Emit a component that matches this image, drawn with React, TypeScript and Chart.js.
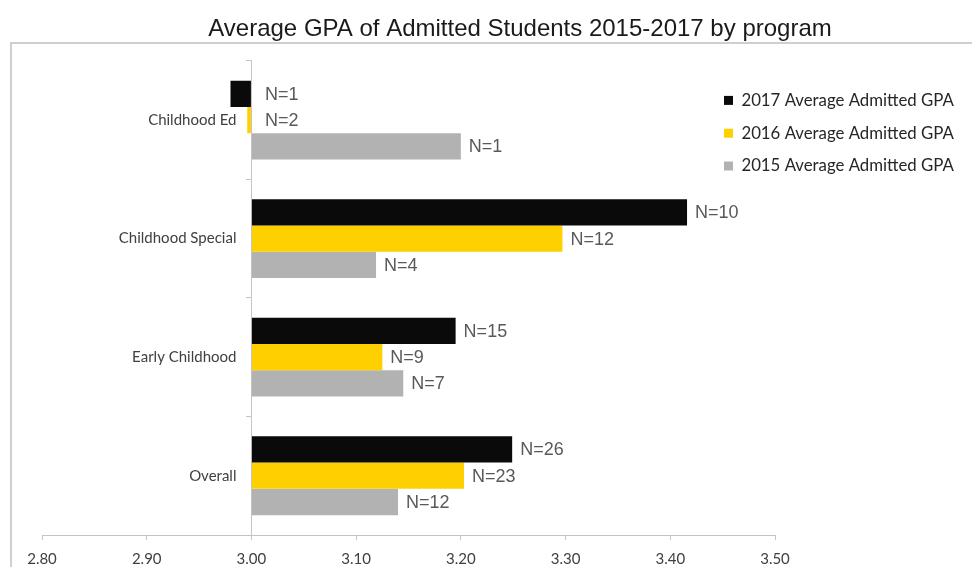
import React, { useEffect, useRef } from "react";
import { Chart, registerables } from "chart.js";

Chart.register(...registerables);

const chartTitle = "Average GPA of Admitted Students 2015-2017 by program";
const categories = ["Childhood Ed", "Childhood Special", "Early Childhood", "Overall"];
const seriesLabels = [
  "2017 Average Admitted GPA",
  "2016 Average Admitted GPA",
  "2015 Average Admitted GPA",
];
const gpa2017 = [2.98, 3.416, 3.195, 3.249];
const gpa2016 = [2.996, 3.297, 3.125, 3.203];
const gpa2015 = [3.2, 3.119, 3.145, 3.14];
const n2017 = [1, 10, 15, 26];
const n2016 = [2, 12, 9, 23];
const n2015 = [1, 4, 7, 12];
const baseGPA = 3.0;
const xTicks = [2.8, 2.9, 3.0, 3.1, 3.2, 3.3, 3.4, 3.5];

const seriesValues = [gpa2017, gpa2016, gpa2015];
const seriesCounts = [n2017, n2016, n2015];
const seriesColors = ["#0a0a0a", "#ffd000", "#b2b2b2"];

const AXIS_GRAY = "#c4c4c4";
const CATEGORY_LABEL_GAP = 15;

const placeBoxesPlugin = {
  id: "placeBoxes",
  afterLayout(chart: any) {
    const t = chart.titleBlock;
    if (t) {
      t.left = 68;
      t.right = 972;
    }
    const lg = chart.legend;
    if (lg) {
      lg.left = 708;
      lg.right = 972;
      lg.top = 76;
      lg.bottom = 534;
      lg.width = lg.right - lg.left;
      lg.height = lg.bottom - lg.top;
    }
  },
  beforeDraw(chart: any) {
    const ys = chart.scales.y;
    if (!ys) return;
    const items = ys.getLabelItems(chart.chartArea);
    items.forEach((it: any) => {
      if (!it._shifted) {
        it.options.translation[0] -= CATEGORY_LABEL_GAP;
        it._shifted = true;
      }
    });
  },
};

const barLabelPlugin = {
  id: "barLabels",
  afterDatasetsDraw(chart: any) {
    const ctx = chart.ctx;
    ctx.save();
    ctx.font = '18px "Liberation Sans", Arial, sans-serif';
    ctx.fillStyle = "#595959";
    ctx.textBaseline = "middle";
    ctx.textAlign = "left";
    chart.data.datasets.forEach((_ds: any, di: number) => {
      const meta = chart.getDatasetMeta(di);
      meta.data.forEach((bar: any, i: number) => {
        const { x, base, y } = bar.getProps(["x", "base", "y"], true);
        const end = Math.max(x, base);
        const gap = x < base ? 14 : 8;
        ctx.fillText("N=" + seriesCounts[di][i], end + gap, y + 1);
      });
    });
    ctx.restore();
  },
};

export default function App() {
  const ref = useRef<HTMLCanvasElement | null>(null);

  useEffect(() => {
    if (!ref.current) return;
    const chart = new Chart(ref.current, {
      type: "bar",
      data: {
        labels: categories,
        datasets: seriesLabels.map((label, di) => ({
          label,
          data: seriesValues[di],
          backgroundColor: seriesColors[di],
          borderWidth: 0,
          base: baseGPA,
          categoryPercentage: 0.665,
          barPercentage: 1.0,
        })),
      },
      options: {
        indexAxis: "y",
        responsive: false,
        animation: false,
        layout: { padding: { left: 42, right: 197, top: 0, bottom: -11 } },
        scales: {
          x: {
            type: "linear",
            position: "bottom",
            min: xTicks[0],
            max: xTicks[xTicks.length - 1],
            afterBuildTicks: (scale: any) => {
              scale.ticks = xTicks.map((v) => ({ value: v }));
            },
            grid: {
              display: true,
              drawOnChartArea: false,
              tickLength: 5,
              tickColor: AXIS_GRAY,
              color: AXIS_GRAY,
            },
            border: { display: true, color: AXIS_GRAY, width: 1 },
            ticks: {
              padding: 10,
              color: "#404040",
              font: { family: "Lato", size: 15 },
              callback: (v: any) => Number(v).toFixed(2),
            },
          },
          y: {
            type: "category",
            axis: "y",
            position: { x: baseGPA } as any,
            offset: true,
            grid: {
              display: true,
              drawOnChartArea: false,
              offset: true,
              tickLength: 5,
              tickColor: AXIS_GRAY,
              color: AXIS_GRAY,
            },
            border: { display: true, color: AXIS_GRAY, width: 1 },
            ticks: {
              padding: 10,
              color: "#404040",
              font: { family: "Lato", size: 15 },
            },
          },
        },
        plugins: {
          title: {
            display: true,
            text: chartTitle,
            color: "#1a1a1a",
            font: { family: '"Liberation Sans", Arial, sans-serif', size: 24, weight: "normal" },
            padding: { top: 15, bottom: 17 },
          },
          legend: {
            display: true,
            position: "chartArea",
            align: "start",
            labels: {
              boxWidth: 9,
              boxHeight: 9,
              padding: 16,
              color: "#262626",
              font: { family: "Lato", size: 16.8 },
            },
          },
          tooltip: { enabled: false },
        },
      } as any,
      plugins: [placeBoxesPlugin, barLabelPlugin],
    });
    return () => chart.destroy();
  }, []);

  return (
    <div
      style={{
        position: "fixed",
        left: 0,
        top: 0,
        width: 972,
        height: 567,
        background: "#ffffff",
        overflow: "hidden",
      }}
    >
      <div
        style={{
          position: "absolute",
          left: 10,
          top: 42,
          width: 1000,
          height: 600,
          borderLeft: "2px solid #cfcfcf",
          borderTop: "2px solid #cfcfcf",
        }}
      />
      <canvas
        ref={ref}
        width={972}
        height={567}
        style={{ position: "absolute", left: 0, top: 0 }}
      />
    </div>
  );
}
